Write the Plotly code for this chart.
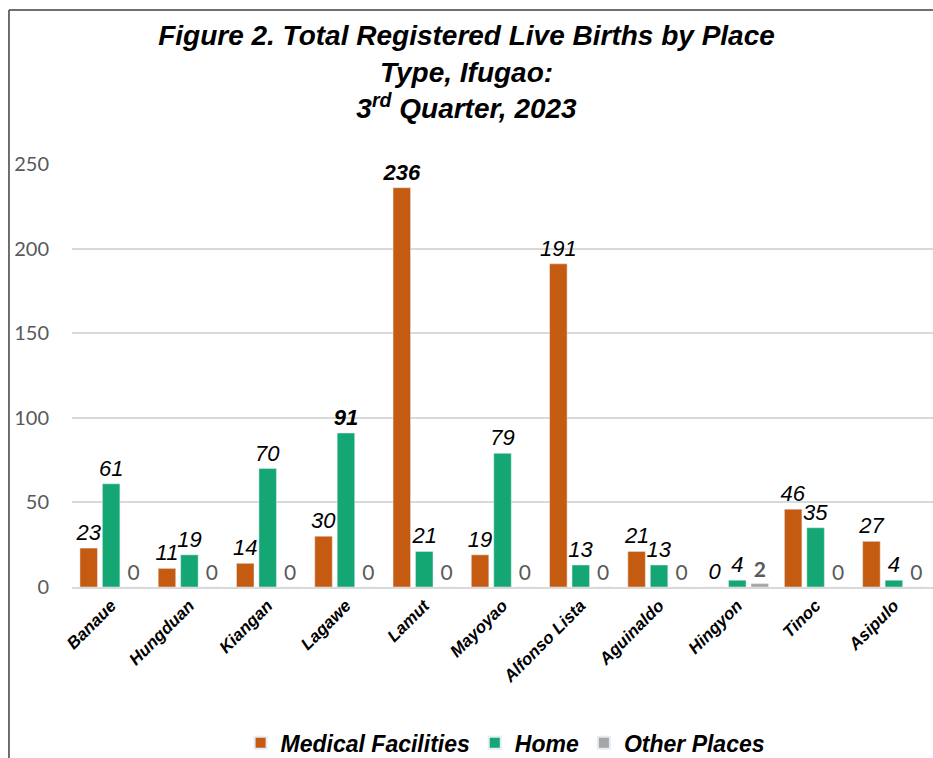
import plotly.graph_objects as go

categories = ["Banaue", "Hungduan", "Kiangan", "Lagawe", "Lamut", "Mayoyao",
              "Alfonso Lista", "Aguinaldo", "Hingyon", "Tinoc", "Asipulo"]
medical = [23, 11, 14, 30, 236, 19, 191, 21, 0, 46, 27]
home = [61, 19, 70, 91, 21, 79, 13, 13, 4, 35, 4]
other = [0, 0, 0, 0, 0, 0, 0, 0, 2, 0, 0]

series_names = ["Medical Facilities", "Home", "Other Places"]
colors = ["#C55A11", "#14A673", "#A6A6A6"]

def fmt_italic(vals, bold_vals=()):
    out = []
    for v in vals:
        s = f"<i>{v}</i>"
        if v in bold_vals:
            s = f"<b>{s}</b>"
        out.append(s)
    return out

med_text = fmt_italic(medical, bold_vals=(236,))
home_text = fmt_italic(home, bold_vals=(91,))
other_text = [f"<b>{v}</b>" if v > 0 else f"{v}" for v in other]

label_font = dict(family="Liberation Sans, Arial, sans-serif", size=22, color="#000000")

fig = go.Figure()
fig.add_trace(go.Bar(x=categories, y=medical, name=series_names[0], marker_color=colors[0],
                     text=med_text, textposition="outside", textfont=label_font,
                     constraintext="none", cliponaxis=False))
fig.add_trace(go.Bar(x=categories, y=home, name=series_names[1], marker_color=colors[1],
                     text=home_text, textposition="outside", textfont=label_font,
                     constraintext="none", cliponaxis=False))
fig.add_trace(go.Bar(x=categories, y=other, name=series_names[2], marker_color=colors[2],
                     text=other_text, textposition="outside",
                     textfont=dict(family="Lato, sans-serif", size=21, color="#595959"),
                     constraintext="none", cliponaxis=False))

fig.update_layout(
    width=933, height=758,
    margin=dict(l=72, r=0, t=164, b=171, autoexpand=False),
    paper_bgcolor="white", plot_bgcolor="white",
    barmode="group", bargap=0.14, bargroupgap=0.22,
    title=dict(
        text="Figure 2. Total Registered Live Births by Place<br>Type, Ifugao:<br>3<sup>rd</sup> Quarter, 2023",
        x=0.5, xanchor="center", xref="container",
        y=0.94, yanchor="top", yref="container",
        font=dict(family="Liberation Sans, Arial, sans-serif", size=28, color="#000000",
                  weight="bold", style="italic"),
    ),
    xaxis=dict(
        tickangle=-45, automargin=False,
        tickfont=dict(family="Liberation Sans, Arial, sans-serif", size=17, color="#000000",
                      weight="bold", style="italic"),
        showgrid=False, showline=True, linecolor="#D9D9D9", linewidth=2,
        ticks="",
    ),
    yaxis=dict(
        range=[0, 250], tickvals=[0, 50, 100, 150, 200, 250], automargin=False,
        tickfont=dict(family="Lato, sans-serif", size=20, color="#595959"),
        showgrid=True, gridcolor="#D9D9D9", gridwidth=1.5,
        zeroline=False, showline=False, ticklabelstandoff=22,
    ),
    legend=dict(
        orientation="h", x=0.503, xanchor="center",
        y=0.02, yanchor="middle", yref="container",
        font=dict(family="Liberation Sans, Arial, sans-serif", size=23, color="#000000",
                  weight="bold", style="italic"),
        itemsizing="constant", traceorder="normal",
    ),
    shapes=[
        dict(type="line", xref="paper", yref="paper", x0=-0.0732, x1=1.1, y0=1.364, y1=1.364,
             line=dict(color="#404040", width=1.5)),
        dict(type="line", xref="paper", yref="paper", x0=-0.0732, x1=-0.0732, y0=1.364, y1=-0.5,
             line=dict(color="#404040", width=1.5)),
    ],
)

fig.write_html("out.html", config={"displayModeBar": False},
               post_script="document.body.style.margin='0px';")
